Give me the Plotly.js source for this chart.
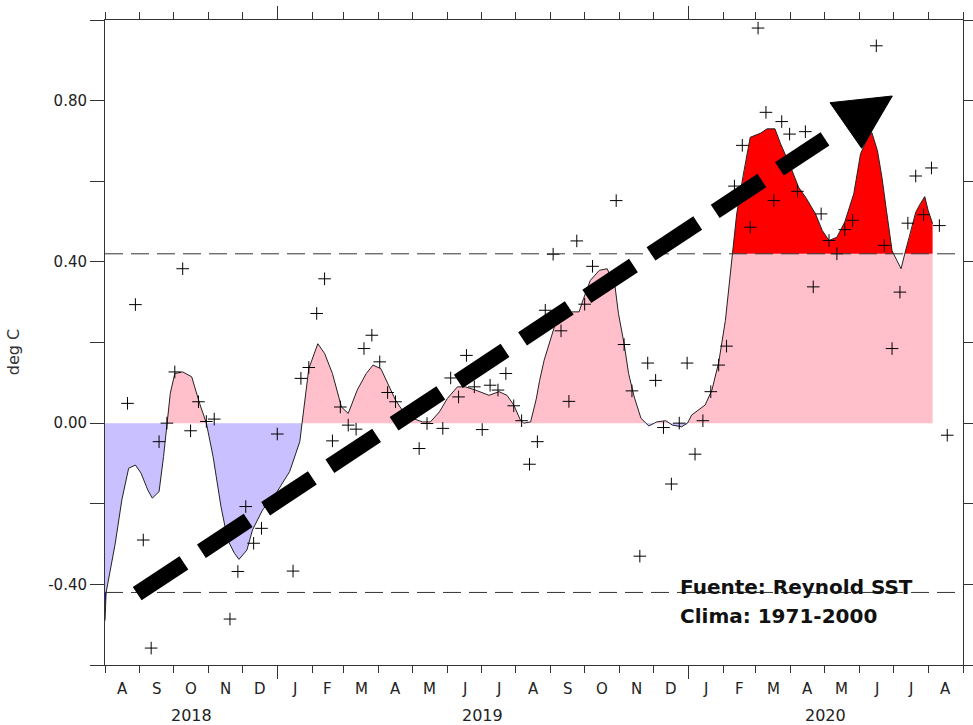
<!DOCTYPE html>
<html><head><meta charset="utf-8">
<script src="https://cdn.plot.ly/plotly-3.0.1.min.js"></script>
<style>html,body{margin:0;padding:0;background:#fff}#chart{width:973px;height:725px}</style>
</head><body><div id="chart"></div>
<script>
// Smoothed SST anomaly curve (deg C)
const curveDates = ['2018-08-01','2018-08-02','2018-08-10','2018-08-16','2018-08-22','2018-08-28','2018-09-02','2018-09-08','2018-09-12','2018-09-18','2018-09-22','2018-09-25','2018-09-28','2018-10-02','2018-10-09','2018-10-17','2018-10-24','2018-10-30','2018-11-05','2018-11-12','2018-11-18','2018-11-24','2018-11-28','2018-12-05','2018-12-10','2018-12-19','2018-12-31','2019-01-12','2019-01-21','2019-01-23','2019-01-29','2019-02-06','2019-02-12','2019-02-19','2019-02-24','2019-02-27','2019-03-05','2019-03-13','2019-03-21','2019-03-27','2019-04-03','2019-04-09','2019-04-16','2019-04-22','2019-05-01','2019-05-10','2019-05-17','2019-05-25','2019-06-01','2019-06-10','2019-06-17','2019-06-26','2019-07-08','2019-07-17','2019-07-24','2019-07-30','2019-08-05','2019-08-08','2019-08-14','2019-08-19','2019-08-22','2019-08-26','2019-09-01','2019-09-05','2019-09-20','2019-09-26','2019-09-30','2019-10-06','2019-10-14','2019-10-21','2019-10-28','2019-10-31','2019-11-05','2019-11-09','2019-11-14','2019-11-20','2019-11-27','2019-12-04','2019-12-12','2019-12-18','2019-12-26','2019-12-31','2020-01-04','2020-01-10','2020-01-16','2020-01-22','2020-01-28','2020-02-03','2020-02-09','2020-02-13','2020-02-19','2020-02-25','2020-03-05','2020-03-11','2020-03-18','2020-03-23','2020-04-01','2020-04-08','2020-04-15','2020-04-23','2020-04-29','2020-05-05','2020-05-12','2020-05-19','2020-05-27','2020-06-02','2020-06-08','2020-06-12','2020-06-17','2020-06-21','2020-06-25','2020-06-30','2020-07-04','2020-07-08','2020-07-12','2020-07-16','2020-07-21','2020-07-25','2020-07-29','2020-08-01','2020-08-05'];
const curveValues = [-0.49,-0.42,-0.30,-0.19,-0.112,-0.104,-0.124,-0.166,-0.186,-0.170,-0.083,0.0,0.074,0.123,0.127,0.115,0.049,0.0,-0.083,-0.207,-0.29,-0.323,-0.338,-0.315,-0.265,-0.215,-0.174,-0.12,-0.046,0.0,0.135,0.197,0.173,0.123,0.074,0.040,0.024,0.082,0.123,0.144,0.135,0.098,0.057,0.032,0.012,0.003,0.003,0.028,0.061,0.09,0.09,0.082,0.069,0.078,0.069,0.045,0.007,0.0,0.003,0.06,0.106,0.156,0.214,0.247,0.276,0.276,0.309,0.354,0.379,0.383,0.338,0.272,0.197,0.123,0.065,0.012,-0.007,0.003,0.006,-0.005,-0.009,-0.002,0.02,0.032,0.045,0.082,0.150,0.255,0.416,0.519,0.618,0.709,0.719,0.730,0.730,0.693,0.635,0.585,0.557,0.519,0.478,0.453,0.461,0.499,0.569,0.668,0.705,0.721,0.676,0.610,0.528,0.428,0.404,0.383,0.428,0.466,0.523,0.544,0.562,0.528,0.495];

// Weekly anomalies ("+")
const obsDates = ['2018-08-21','2018-08-28','2018-09-04','2018-09-11','2018-09-18','2018-09-25','2018-10-02','2018-10-09','2018-10-16','2018-10-23','2018-10-30','2018-11-06','2018-11-13','2018-11-20','2018-11-27','2018-12-04','2018-12-11','2018-12-18','2018-12-25','2019-01-01','2019-01-08','2019-01-15','2019-01-22','2019-01-29','2019-02-05','2019-02-12','2019-02-19','2019-02-26','2019-03-05','2019-03-12','2019-03-19','2019-03-26','2019-04-02','2019-04-09','2019-04-16','2019-04-23','2019-04-30','2019-05-07','2019-05-14','2019-05-21','2019-05-28','2019-06-04','2019-06-11','2019-06-18','2019-06-25','2019-07-02','2019-07-09','2019-07-16','2019-07-23','2019-07-30','2019-08-06','2019-08-13','2019-08-20','2019-08-27','2019-09-03','2019-09-10','2019-09-17','2019-09-24','2019-10-01','2019-10-08','2019-10-15','2019-10-22','2019-10-29','2019-11-05','2019-11-12','2019-11-19','2019-11-26','2019-12-03','2019-12-10','2019-12-17','2019-12-24','2019-12-31','2020-01-07','2020-01-14','2020-01-21','2020-01-28','2020-02-04','2020-02-11','2020-02-18','2020-02-25','2020-03-03','2020-03-10','2020-03-17','2020-03-24','2020-03-31','2020-04-07','2020-04-14','2020-04-21','2020-04-28','2020-05-05','2020-05-12','2020-05-19','2020-05-26','2020-06-02','2020-06-09','2020-06-16','2020-06-23','2020-06-30','2020-07-07','2020-07-14','2020-07-21','2020-07-28','2020-08-04','2020-08-11','2020-08-18'];
const obsValues = [0.049,0.294,-0.29,-0.558,-0.046,0.0,0.127,0.383,-0.019,0.053,0.004,0.01,-0.282,-0.486,-0.368,-0.207,-0.298,-0.261,-0.205,-0.027,-0.178,-0.367,0.111,0.138,0.272,0.358,-0.044,0.040,-0.005,-0.015,0.185,0.218,0.152,0.076,0.053,0.017,0.028,-0.063,-0.001,0.068,-0.013,0.112,0.065,0.168,0.090,-0.016,0.094,0.082,0.123,0.043,0.006,-0.102,-0.046,0.28,0.419,0.229,0.054,0.452,0.295,0.389,0.341,0.354,0.552,0.195,0.08,-0.33,0.149,0.106,-0.011,-0.151,0.0,0.149,-0.077,0.006,0.078,0.144,0.191,0.588,0.689,0.486,0.98,0.771,0.552,0.748,0.717,0.575,0.723,0.338,0.519,0.453,0.42,0.48,0.503,0.74,0.76,0.936,0.441,0.185,0.325,0.496,0.613,0.517,0.633,0.49,-0.03];

const monthLetters = ['A','S','O','N','D','J','F','M','A','M','J','J','A','S','O','N','D','J','F','M','A','M','J','J','A'];
const yearLabels = ['2018','2019','2020'];
const yTickVals = [-0.6,-0.4,-0.2,0,0.2,0.4,0.6,0.8,1.0];
const yTickText = ['','-0.40','','0.00','','0.40','','0.80',''];
const upperThreshold = 0.42, lowerThreshold = -0.42;
const xStart = '2018-08-01', xEnd = '2020-09-01';

// insert threshold crossings so fills meet the curve cleanly
const t = curveDates.map(d => Date.parse(d));
const levels = [lowerThreshold, 0, upperThreshold];
const X = [], V = [];
for (let i = 0; i < t.length; i++) {
  if (i > 0) {
    const v0 = curveValues[i-1], v1 = curveValues[i];
    levels.filter(L => (v0-L)*(v1-L) < 0)
      .map(L => ({L, f:(L-v0)/(v1-v0)}))
      .sort((a,b) => a.f-b.f)
      .forEach(c => { X.push(t[i-1] + c.f*(t[i]-t[i-1])); V.push(c.L); });
  }
  X.push(t[i]); V.push(curveValues[i]);
}
const pos = V.map(v => Math.max(0, Math.min(v, upperThreshold)));
const neg = V.map(v => Math.min(0, Math.max(v, lowerThreshold)));
const hi = V.map(v => Math.max(v, upperThreshold));
const lo = V.map(v => Math.min(v, lowerThreshold));

const clear = {width:0, color:'rgba(0,0,0,0)'};
const base = lvl => ({x:X, y:X.map(() => lvl), mode:'lines', line:clear, hoverinfo:'skip', showlegend:false});
const band = (y, c) => ({x:X, y:y, mode:'lines', fill:'tonexty', fillcolor:c, line:clear, hoverinfo:'skip', showlegend:false});

const traces = [
  base(0), band(pos, 'rgb(255,192,203)'),
  base(0), band(neg, 'rgb(200,192,255)'),
  base(upperThreshold), band(hi, 'rgb(255,0,0)'),
  base(lowerThreshold), band(lo, 'rgb(0,0,255)'),
  {x:X, y:V, mode:'lines', line:{color:'#222', width:1}, showlegend:false},
  {x:obsDates, y:obsValues, mode:'markers', marker:{symbol:'cross-thin', size:9, line:{width:1, color:'#000'}}, showlegend:false}
];

// month/year labels
const fmt = ms => new Date(ms).toISOString().slice(0,19).replace('T',' ');
const monthStarts = [];
{ let y = 2018, m = 7; for (let k = 0; k <= monthLetters.length; k++) { monthStarts.push(Date.UTC(y, m, 1)); m++; if (m > 11) { m = 0; y++; } } }
const font = 'DejaVu Sans, sans-serif';
const annotations = monthLetters.map((L, k) => ({
  x: fmt((monthStarts[k] + monthStarts[k+1]) / 2), xref:'x', y:-0.037, yref:'paper', xanchor:'center',
  text:L, showarrow:false, yanchor:'middle', font:{family:font, size:15, color:'#222'}
}));
const yearBounds = [[Date.parse(xStart), Date.parse('2019-01-01')], [Date.parse('2019-01-01'), Date.parse('2020-01-01')], [Date.parse('2020-01-01'), Date.parse(xEnd)]];
yearLabels.forEach((Y, k) => annotations.push({
  x: fmt((yearBounds[k][0] + yearBounds[k][1]) / 2), xref:'x', y:-0.079, yref:'paper', xanchor:'center',
  text:Y, showarrow:false, yanchor:'middle', font:{family:font, size:16, color:'#222'}
}));
annotations.push({x:-0.1072, xref:'paper', y:0.485, yref:'paper', xanchor:'center', yanchor:'middle', text:'deg C', textangle:-90, showarrow:false,
  font:{family:font, size:16, color:'#333'}});
annotations.push({x:0.6678, xref:'paper', y:0.1209, yref:'paper', xanchor:'left', yanchor:'middle', text:'<b>Fuente: Reynold SST</b>', showarrow:false,
  font:{family:font, size:20, color:'#111'}});
annotations.push({x:0.6678, xref:'paper', y:0.0755, yref:'paper', xanchor:'left', yanchor:'middle', text:'<b>Clima: 1971-2000</b>', showarrow:false,
  font:{family:font, size:20, color:'#111'}});

const shapes = [
  {type:'line', xref:'paper', yref:'y', x0:0, x1:1, y0:upperThreshold, y1:upperThreshold, line:{color:'#333', width:1, dash:'18px,8px'}},
  {type:'line', xref:'paper', yref:'y', x0:0, x1:1, y0:lowerThreshold, y1:lowerThreshold, line:{color:'#333', width:1, dash:'18px,8px'}},
  // trend arrow (drawn annotation)
  {type:'line', xref:'paper', yref:'paper', x0:0.03753, y0:0.11054, x1:0.83916, y1:0.81581, line:{color:'#000', width:16, dash:'56px,21px'}},
  {type:'path', xref:'paper', yref:'paper', path:'M 0.84499 0.87178 L 0.91760 0.88217 L 0.88193 0.80109 Z', fillcolor:'#000', line:{color:'#000', width:1}}
];

const layout = {
  width:973, height:725, margin:{l:105, r:10, t:20, b:60},
  paper_bgcolor:'#fff', plot_bgcolor:'#fff', showlegend:false,
  font:{family:font, size:15, color:'#222'},
  xaxis:{type:'date', range:[xStart, xEnd], showgrid:false, zeroline:false, showline:true, linecolor:'#333', linewidth:1,
    mirror:'ticks', ticks:'outside', tickvals:['2019-01-01','2020-01-01'], ticklen:13, tickcolor:'#333', tickwidth:1, showticklabels:false,
    minor:{ticks:'outside', dtick:'M1', tick0:xStart, ticklen:7, tickcolor:'#333', tickwidth:1, showgrid:false}},
  yaxis:{range:[-0.6, 1.0], showgrid:false, zeroline:false, showline:true, linecolor:'#333', linewidth:1, mirror:'ticks',
    ticks:'outside', ticklen:14, tickcolor:'#333', tickwidth:1, tickvals:yTickVals, ticktext:yTickText,
    tickfont:{family:font, size:15, color:'#222'}},
  annotations:annotations, shapes:shapes
};
Plotly.newPlot('chart', traces, layout, {staticPlot:true, displayModeBar:false});
</script></body></html>
